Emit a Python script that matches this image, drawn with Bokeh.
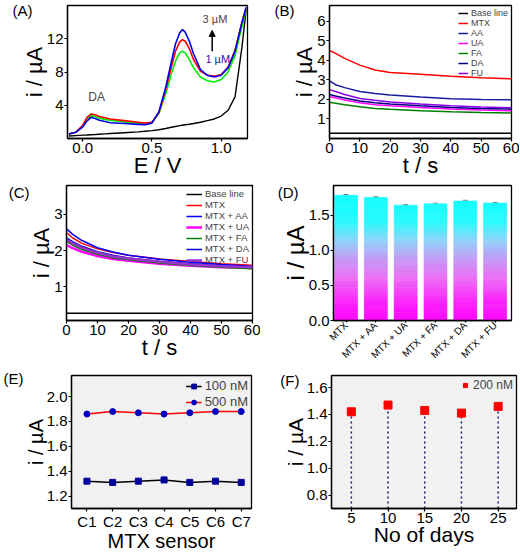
import math
from bokeh.plotting import figure
from bokeh.layouts import column, row
from bokeh.models import (Label, FixedTicker, Range1d, Arrow, NormalHead,
                          Whisker, TeeHead, ColumnDataSource, NumeralTickFormatter, LinearAxis)
from bokeh.embed import file_html
from bokeh.resources import INLINE

FONT = "Liberation Sans"

# ---------------- (A) DPV ----------------
E_V = [-0.10, -0.05, 0.00, 0.03, 0.06, 0.09, 0.12, 0.16, 0.20, 0.30, 0.40, 0.45, 0.50, 0.55,
       0.60, 0.64, 0.67, 0.70, 0.72, 0.74, 0.77, 0.80, 0.85, 0.90, 0.95, 1.00, 1.05, 1.10,
       1.15, 1.18]
dpv_base = [0.30, 0.35, 0.40, 0.42, 0.45, 0.48, 0.52, 0.56, 0.60, 0.70, 0.80, 0.88, 0.95, 1.05,
            1.20, 1.35, 1.45, 1.55, 1.60, 1.65, 1.72, 1.80, 1.95, 2.15, 2.35, 2.70, 3.40, 5.00,
            11.0, 15.5]
dpv_1uM = [0.55, 0.75, 1.50, 2.30, 2.75, 2.65, 2.45, 2.30, 2.20, 2.00, 1.85, 1.80, 1.95, 3.00,
           5.40, 7.80, 9.30, 10.3, 10.5, 10.3, 9.50, 8.50, 7.40, 6.95, 6.80, 7.10, 8.00, 10.0,
           13.5, 15.5]
dpv_2uM = [0.55, 0.75, 1.60, 2.50, 2.95, 2.85, 2.65, 2.50, 2.35, 2.15, 1.95, 1.85, 1.95, 3.10,
           5.90, 8.60, 10.5, 11.6, 11.9, 11.7, 10.8, 9.50, 8.10, 7.60, 7.50, 7.70, 8.60, 10.6,
           14.0, 15.7]
dpv_3uM = [0.55, 0.75, 1.40, 2.10, 2.55, 2.40, 2.20, 2.05, 1.90, 1.80, 1.70, 1.65, 1.85, 3.20,
           6.20, 9.20, 11.4, 12.7, 13.1, 12.8, 11.7, 10.2, 8.30, 7.60, 7.40, 7.60, 8.50, 10.5,
           14.0, 15.8]

# ---------------- (B) / (C) chronoamperometry ----------------
t_s = [0, 2, 5, 10, 15, 20, 30, 40, 50, 60]
b_base = [0.27, 0.27, 0.27, 0.27, 0.27, 0.27, 0.27, 0.27, 0.27, 0.27]
b_mtx = [4.50, 4.35, 4.10, 3.75, 3.50, 3.38, 3.28, 3.18, 3.10, 3.05]
b_aa = [2.95, 2.75, 2.60, 2.40, 2.30, 2.22, 2.12, 2.03, 1.99, 1.98]
b_ua = [2.15, 2.08, 1.97, 1.83, 1.73, 1.67, 1.58, 1.51, 1.46, 1.42]
b_fa = [1.85, 1.80, 1.72, 1.62, 1.54, 1.49, 1.42, 1.37, 1.33, 1.30]
b_da = [2.25, 2.17, 2.07, 1.92, 1.83, 1.77, 1.67, 1.59, 1.54, 1.50]
b_fu = [2.50, 2.40, 2.25, 2.05, 1.95, 1.87, 1.76, 1.67, 1.61, 1.57]

c_base = [0.27, 0.27, 0.27, 0.27, 0.27, 0.27, 0.27, 0.27, 0.27, 0.27]
c_mtx = [2.50, 2.35, 2.20, 2.05, 1.95, 1.87, 1.77, 1.70, 1.64, 1.60]
c_aa = [2.60, 2.45, 2.28, 2.08, 1.96, 1.87, 1.76, 1.68, 1.62, 1.57]
c_ua = [2.15, 2.07, 1.97, 1.85, 1.77, 1.72, 1.64, 1.58, 1.54, 1.52]
c_fa = [2.25, 2.15, 2.03, 1.90, 1.80, 1.75, 1.66, 1.59, 1.54, 1.50]
c_da = [2.35, 2.25, 2.12, 1.97, 1.87, 1.80, 1.71, 1.64, 1.58, 1.55]
c_fu = [2.30, 2.20, 2.08, 1.94, 1.84, 1.78, 1.69, 1.62, 1.57, 1.54]

# ---------------- (D) interference bars ----------------
d_labels = ["MTX", "MTX + AA", "MTX + UA", "MTX + FA", "MTX + DA", "MTX + FU"]
d_current = [1.78, 1.75, 1.64, 1.66, 1.70, 1.67]
d_error = [0.012, 0.010, 0.008, 0.008, 0.010, 0.009]

# ---------------- (E) reproducibility ----------------
e_sensors = ["C1", "C2", "C3", "C4", "C5", "C6", "C7"]
e_100nM = [1.32, 1.31, 1.32, 1.33, 1.31, 1.32, 1.31]
e_500nM = [1.86, 1.88, 1.87, 1.86, 1.87, 1.88, 1.88]

# ---------------- (F) stability ----------------
f_days = [5, 10, 15, 20, 25]
f_200nM = [1.42, 1.47, 1.43, 1.41, 1.46]


def make_fig(w, h, bl, br, bt, bb, xr, yr, bg="white"):
    p = figure(width=w, height=h, x_range=xr, y_range=yr, output_backend="svg",
               toolbar_location=None, min_border_left=bl, min_border_right=br,
               min_border_top=bt, min_border_bottom=bb, background_fill_color=bg,
               border_fill_color="white")
    p.xgrid.visible = False
    p.ygrid.visible = False
    p.outline_line_color = "black"
    p.outline_line_width = 1.3
    p.outline_line_alpha = 1
    return p


def style_axes(p, xlabel, ylabel, tick_px, lab_px):
    for ax in list(p.xaxis) + list(p.yaxis):
        ax.axis_line_width = 1.3
        ax.major_tick_in = 0
        ax.major_tick_out = 3
        ax.major_tick_line_width = 1.2
        ax.minor_tick_line_color = None
        ax.major_label_text_font = FONT
        ax.major_label_text_font_size = f"{tick_px}px"
        ax.major_label_text_color = "black"
        ax.axis_label_text_font = FONT
        ax.axis_label_text_font_style = "normal"
        ax.axis_label_text_font_size = f"{lab_px}px"
        ax.axis_label_text_color = "black"
        ax.major_label_standoff = 1
        ax.axis_label_standoff = -3
    p.xaxis.axis_label = xlabel
    p.yaxis.axis_label = ylabel


def panel_tag(p, txt, frac, standoff):
    # panel letter drawn as the single label of an outer, line-less left axis
    p.extra_y_ranges = {"tag": Range1d(0, 1)}
    ax = LinearAxis(y_range_name="tag", ticker=FixedTicker(ticks=[frac]),
                    major_label_overrides={frac: txt}, axis_line_color=None,
                    major_tick_line_color=None, minor_tick_line_color=None,
                    major_tick_in=0, major_tick_out=0,
                    major_label_text_font=FONT, major_label_text_font_size="15px",
                    major_label_text_color="black", major_label_standoff=standoff)
    p.add_layout(ax, "left")


def legend_style(p, font_px, gw, gh, lh, spacing):
    lg = p.legend[0]
    lg.location = "top_right"
    lg.background_fill_alpha = 0
    lg.border_line_alpha = 0
    lg.label_text_font = FONT
    lg.label_text_font_size = f"{font_px}px"
    lg.glyph_width = gw
    lg.glyph_height = gh
    lg.label_height = lh
    lg.spacing = spacing
    lg.padding = 1
    lg.margin = 2
    lg.label_standoff = 3


# ---------- (A) ----------
pA = make_fig(260, 180, 67, 13, 5, 42, Range1d(-0.11, 1.19), Range1d(0, 16))
pA.line(E_V, dpv_base, line_color="black", line_width=1.4)
pA.line(E_V, dpv_1uM, line_color="#00ee00", line_width=1.6)
pA.line(E_V, dpv_2uM, line_color="#ff0000", line_width=1.6)
pA.line(E_V, dpv_3uM, line_color="#0000ee", line_width=1.6)
style_axes(pA, "E / V", "i / µA", 15, 22)
pA.xaxis.ticker = FixedTicker(ticks=[0.0, 0.5, 1.0])
pA.xaxis.formatter = NumeralTickFormatter(format="0.0")
pA.yaxis.ticker = FixedTicker(ticks=[4, 8, 12])
pA.add_layout(Label(x=0.1, y=4.1, text="DA", text_font=FONT, text_font_size="12px",
                    text_align="center", text_baseline="bottom"))
pA.add_layout(Label(x=0.955, y=13.6, text="3 µM", text_font=FONT, text_font_size="11px",
                    text_align="center", text_baseline="bottom"))
pA.add_layout(Label(x=0.975, y=8.9, text="1 µM", text_font=FONT, text_font_size="11px",
                    text_align="center", text_baseline="bottom", text_color="#1a1aa0"))
pA.add_layout(Arrow(end=NormalHead(size=6, fill_color="black", line_color="black"),
                    x_start=0.935, y_start=10.5, x_end=0.935, y_end=13.0, line_width=1.5))
panel_tag(pA, "(A)", 0.96, -14)

# ---------- (B) ----------
pB = make_fig(259, 180, 69, 8, 5, 42, Range1d(0, 60), Range1d(0.0, 6.8))
pB.line(t_s, b_base, line_color="black", line_width=1.5, legend_label="Base line")
pB.line(t_s, b_mtx, line_color="#ff0000", line_width=1.5, legend_label="MTX")
pB.line(t_s, b_aa, line_color="#1a1aa0", line_width=1.5, legend_label="AA")
pB.line(t_s, b_ua, line_color="#ff00ff", line_width=1.5, legend_label="UA")
pB.line(t_s, b_fa, line_color="#008000", line_width=1.5, legend_label="FA")
pB.line(t_s, b_da, line_color="#000080", line_width=1.5, legend_label="DA")
pB.line(t_s, b_fu, line_color="#8a00e6", line_width=1.5, legend_label="FU")
style_axes(pB, "t / s", "i / µA", 15, 22)
pB.xaxis.ticker = FixedTicker(ticks=[0, 10, 20, 30, 40, 50, 60])
pB.yaxis.ticker = FixedTicker(ticks=[1, 2, 3, 4, 5, 6])
legend_style(pB, 9, 10, 8, 8, 0)
panel_tag(pB, "(B)", 0.96, -5)

# ---------- (C) ----------
pC = make_fig(260, 188, 66, 8, 3, 45, Range1d(0, 60), Range1d(0.07, 3.8))
pC.line(t_s, c_base, line_color="black", line_width=1.5, legend_label="Base line")
pC.line(t_s, c_mtx, line_color="#ff0000", line_width=1.5, legend_label="MTX")
pC.line(t_s, c_aa, line_color="#0000ff", line_width=1.5, legend_label="MTX + AA")
pC.line(t_s, c_ua, line_color="#ff00ff", line_width=2.5, legend_label="MTX + UA")
pC.line(t_s, c_fa, line_color="#008000", line_width=1.5, legend_label="MTX + FA")
pC.line(t_s, c_da, line_color="#0000cd", line_width=1.5, legend_label="MTX + DA")
pC.line(t_s, c_fu, line_color="#9932cc", line_width=2.5, legend_label="MTX + FU")
style_axes(pC, "t / s", "i / µA", 15, 22)
pC.xaxis.ticker = FixedTicker(ticks=[0, 10, 20, 30, 40, 50, 60])
pC.yaxis.ticker = FixedTicker(ticks=[1, 2, 3])
legend_style(pC, 9.5, 16, 8, 8, 0)
panel_tag(pC, "(C)", 0.95, -3)

# ---------- (D) ----------
d_pos = list(range(1, len(d_labels) + 1))
pD = make_fig(259, 188, 73, 8, 5, 48, Range1d(0.58, 6.55), Range1d(0, 1.92))
grad_stops = [(0.0, (255, 0, 255)), (0.3, (250, 40, 250)), (0.6, (236, 108, 244)),
              (0.9, (192, 158, 246)), (1.15, (140, 212, 250)), (1.4, (40, 250, 255)),
              (2.0, (0, 255, 255))]


def grad_color(y):
    for (y0, c0), (y1, c1) in zip(grad_stops[:-1], grad_stops[1:]):
        if y <= y1:
            f = (y - y0) / (y1 - y0)
            c = [round(a + (b - a) * f) for a, b in zip(c0, c1)]
            return "#%02x%02x%02x" % tuple(c)
    return "#00ffff"


n_seg = 60
seg_x, seg_b, seg_t, seg_c = [], [], [], []
for xp, v in zip(d_pos, d_current):
    for k in range(n_seg):
        b = v * k / n_seg
        t = v * (k + 1) / n_seg
        seg_x.append(xp)
        seg_b.append(b)
        seg_t.append(t)
        seg_c.append(grad_color((b + t) / 2))
pD.vbar(x=seg_x, bottom=seg_b, top=seg_t, width=0.77, fill_color=seg_c, line_color=seg_c,
        line_width=0.6)
err_src = ColumnDataSource(dict(x=d_pos,
                                up=[v + e for v, e in zip(d_current, d_error)],
                                lo=[v - e for v, e in zip(d_current, d_error)]))
pD.add_layout(Whisker(base="x", upper="up", lower="lo", source=err_src, dimension="height",
                      line_color="#559955", line_width=1.2,
                      upper_head=TeeHead(size=5, line_color="#777777"),
                      lower_head=TeeHead(size=5, line_color="#777777")))
style_axes(pD, "", "i / µA", 15, 24)
pD.xaxis.axis_label = None
pD.xaxis.ticker = FixedTicker(ticks=d_pos)
pD.xaxis.major_label_overrides = {i: s for i, s in zip(d_pos, d_labels)}
pD.xaxis.major_label_orientation = math.pi / 4
pD.xaxis.major_label_text_font_size = "10px"
pD.xaxis.major_tick_out = 2
pD.yaxis.ticker = FixedTicker(ticks=[0.0, 0.5, 1.0, 1.5])
pD.yaxis.formatter = NumeralTickFormatter(format="0.0")
panel_tag(pD, "(D)", 0.95, -20)

# ---------- (E) ----------
e_pos = list(range(1, len(e_sensors) + 1))
pE = make_fig(260, 186, 71, 9, 7, 42, Range1d(0.4, 7.4), Range1d(1.1, 2.17), bg="#f1f1f1")
pE.line(e_pos, e_100nM, line_color="black", line_width=1.5, legend_label="100 nM")
pE.scatter(e_pos, e_100nM, marker="square", size=6, fill_color="#00009a",
           line_color="#00009a", legend_label="100 nM")
pE.line(e_pos, e_500nM, line_color="#ff0000", line_width=1.5, legend_label="500 nM")
pE.scatter(e_pos, e_500nM, marker="circle", size=6, fill_color="#0000c0",
           line_color="#0000c0", legend_label="500 nM")
style_axes(pE, "MTX sensor", "i / µA", 15, 20)
pE.xaxis.ticker = FixedTicker(ticks=e_pos)
pE.xaxis.major_label_overrides = {i: s for i, s in zip(e_pos, e_sensors)}
pE.yaxis.ticker = FixedTicker(ticks=[1.2, 1.4, 1.6, 1.8, 2.0])
pE.yaxis.formatter = NumeralTickFormatter(format="0.0")
legend_style(pE, 13, 16, 12, 12, 1)
panel_tag(pE, "(E)", 0.98, -2)

# ---------- (F) ----------
f_lo = 0.7
pF = make_fig(259, 186, 71, 3, 7, 42, Range1d(2.3, 27.5), Range1d(f_lo, 1.69), bg="#f1f1f1")
pF.segment(x0=f_days, y0=[f_lo] * len(f_days), x1=f_days, y1=f_200nM, line_color="#1a1a6e",
           line_width=1.5, line_dash="2 3")
pF.scatter(f_days, f_200nM, marker="square", size=8, fill_color="#ff0000",
           line_color="#ff0000", legend_label="200 nM")
style_axes(pF, "No of days", "i / µA", 15, 21)
pF.xaxis.ticker = FixedTicker(ticks=f_days)
pF.yaxis.ticker = FixedTicker(ticks=[0.8, 1.0, 1.2, 1.4, 1.6])
pF.yaxis.formatter = NumeralTickFormatter(format="0.0")
legend_style(pF, 12, 10, 12, 12, 1)
panel_tag(pF, "(F)", 0.96, -19)

layout = column(row(pA, pB), row(pC, pD), row(pE, pF))
open("out.html", "w").write(file_html(layout, INLINE))
